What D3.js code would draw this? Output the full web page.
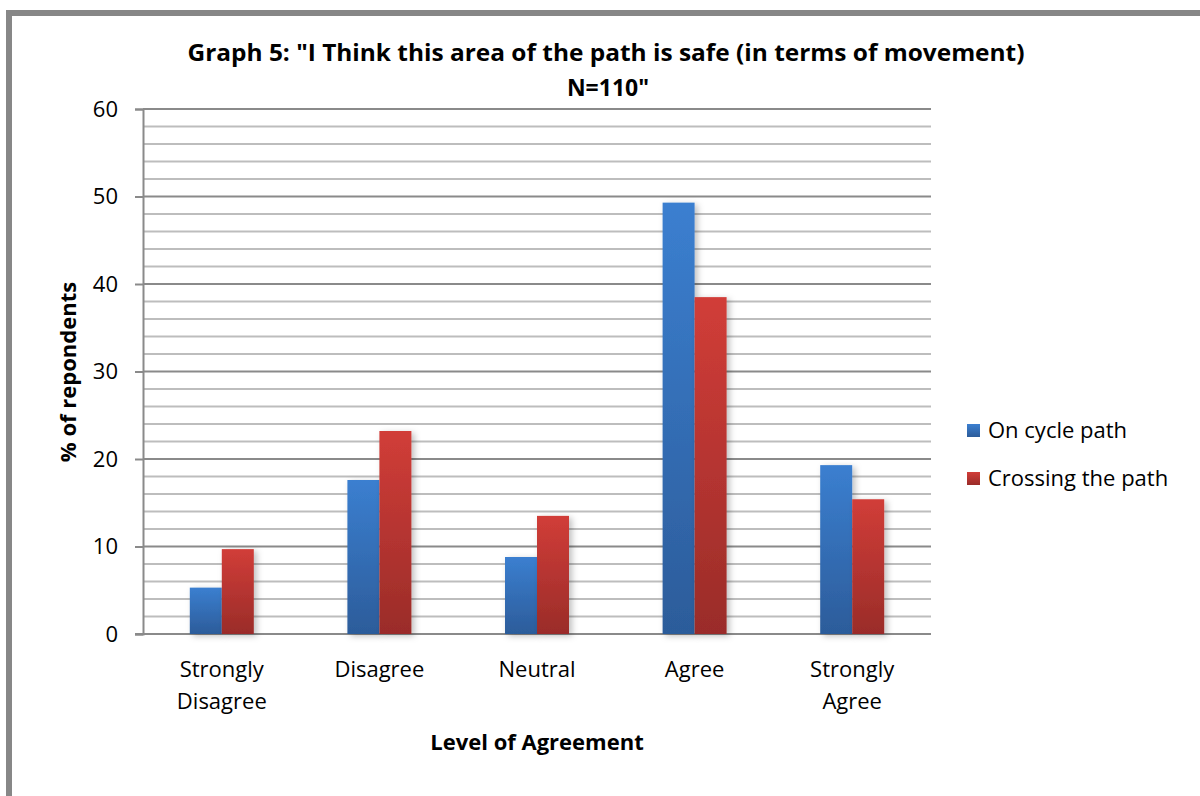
<!DOCTYPE html>
<html>
<head>
<meta charset="utf-8">
<script src="https://cdn.jsdelivr.net/npm/d3@7"></script>
<style>
  body { margin: 0; background: #fff; }
  svg { display: block; font-family: "Open Sans", sans-serif; }
</style>
</head>
<body>
<svg id="chart" width="1200" height="796"></svg>
<script>
// data
const categories = [["Strongly", "Disagree"], ["Disagree"], ["Neutral"], ["Agree"], ["Strongly", "Agree"]];
const seriesNames = ["On cycle path", "Crossing the path"];
const onCyclePath = [5.3, 17.6, 8.8, 49.3, 19.3];
const crossingPath = [9.7, 23.2, 13.5, 38.5, 15.4];
const yTicks = [0, 10, 20, 30, 40, 50, 60];
const minorTicks = d3.range(0, 61, 2);

const svg = d3.select("#chart");
const margin = { left: 143, right: 931, top: 109, bottom: 634 };

// outer frame (runs off right / bottom edges)
svg.append("rect")
  .attr("x", 9).attr("y", 13)
  .attr("width", 1300).attr("height", 900)
  .attr("fill", "none").attr("stroke", "#878787").attr("stroke-width", 6);

const x = d3.scaleBand()
  .domain(d3.range(categories.length))
  .range([margin.left, margin.right]);
const x1 = d3.scaleBand()
  .domain([0, 1])
  .range([0, 64]);
const y = d3.scaleLinear().domain([0, 60]).range([margin.bottom, margin.top]);

const defs = svg.append("defs");
const gradColors = [["#3b7fd0", "#2c5c9a"], ["#d13d38", "#9a2c29"]];
gradColors.forEach((c, i) => {
  const grad = defs.append("linearGradient")
    .attr("id", "grad" + i)
    .attr("x1", "0%").attr("x2", "0%").attr("y1", "0%").attr("y2", "100%");
  grad.append("stop").attr("offset", "0%").style("stop-color", c[0]);
  grad.append("stop").attr("offset", "100%").style("stop-color", c[1]);
});
defs.append("filter").attr("id", "shadow")
  .attr("x", "-20%").attr("y", "-10%").attr("width", "150%").attr("height", "130%")
  .append("feDropShadow")
  .attr("dx", 3).attr("dy", 2).attr("stdDeviation", 3)
  .attr("flood-color", "#000").attr("flood-opacity", 0.25);

// gridlines
svg.append("g")
  .selectAll("line")
  .data(minorTicks)
  .enter()
  .append("line")
  .attr("x1", margin.left).attr("x2", margin.right)
  .attr("y1", (d) => y(d)).attr("y2", (d) => y(d))
  .attr("stroke", (d) => (d % 10 === 0 ? "#8a8a8a" : "#bdbdbd"))
  .attr("stroke-width", 2);

// y axis
const yAxis = d3.axisLeft(y).tickValues(yTicks).tickSize(8).tickPadding(17);
const yg = svg.append("g").attr("transform", `translate(${margin.left},0)`).call(yAxis);
yg.select(".domain").attr("stroke", "#8a8a8a").attr("stroke-width", 2);
yg.selectAll(".tick line").attr("stroke", "#8a8a8a").attr("stroke-width", 2);
yg.selectAll(".tick text")
  .attr("font-size", 22).attr("fill", "#000")
  .attr("font-family", '"Open Sans", sans-serif');

// x axis baseline
svg.append("line")
  .attr("x1", margin.left - 8).attr("x2", margin.right)
  .attr("y1", y(0)).attr("y2", y(0))
  .attr("stroke", "#8a8a8a").attr("stroke-width", 2);

// bars
const series = [onCyclePath, crossingPath];
series.forEach((values, s) => {
  svg.append("g")
    .selectAll("rect")
    .data(values)
    .enter()
    .append("rect")
    .attr("x", (d, i) => x(i) + x.bandwidth() / 2 - 32 + x1(s))
    .attr("y", (d) => y(d))
    .attr("width", x1.bandwidth())
    .attr("height", (d) => y(0) - y(d))
    .attr("fill", `url(#grad${s})`)
    .attr("filter", "url(#shadow)");
});

// category labels
const catText = svg.append("g")
  .selectAll("text")
  .data(categories)
  .enter()
  .append("text")
  .attr("text-anchor", "middle")
  .attr("font-size", 22)
  .attr("fill", "#000")
  .attr("y", 677);
catText.selectAll("tspan")
  .data((d, i) => d.map((t) => ({ t, i })))
  .enter()
  .append("tspan")
  .attr("x", (d) => x(d.i) + x.bandwidth() / 2)
  .attr("dy", (d, j) => (j === 0 ? 0 : 32))
  .text((d) => d.t);

// titles
svg.append("text")
  .attr("x", 606).attr("y", 61)
  .attr("text-anchor", "middle")
  .attr("font-size", 23).attr("font-weight", "bold")
  .attr("textLength", 837).attr("lengthAdjust", "spacingAndGlyphs")
  .text('Graph 5: "I Think this area of the path is safe (in terms of movement)');
svg.append("text")
  .attr("x", 608).attr("y", 96)
  .attr("text-anchor", "middle")
  .attr("font-size", 23).attr("font-weight", "bold")
  .text('N=110"');
svg.append("text")
  .attr("x", 537).attr("y", 750)
  .attr("text-anchor", "middle")
  .attr("font-size", 22).attr("font-weight", "bold")
  .text("Level of Agreement");
svg.append("text")
  .attr("transform", "translate(76,372) rotate(-90)")
  .attr("text-anchor", "middle")
  .attr("font-size", 22).attr("font-weight", "bold")
  .text("% of repondents");

// legend
const legend = svg.append("g")
  .selectAll("g")
  .data(seriesNames)
  .enter()
  .append("g")
  .attr("transform", (d, i) => `translate(967,${424 + i * 48})`);
legend.append("rect")
  .attr("width", 13).attr("height", 13)
  .attr("fill", (d, i) => `url(#grad${i})`);
legend.append("text")
  .attr("x", 21).attr("y", 14)
  .attr("font-size", 22)
  .text((d) => d);
</script>
</body>
</html>
